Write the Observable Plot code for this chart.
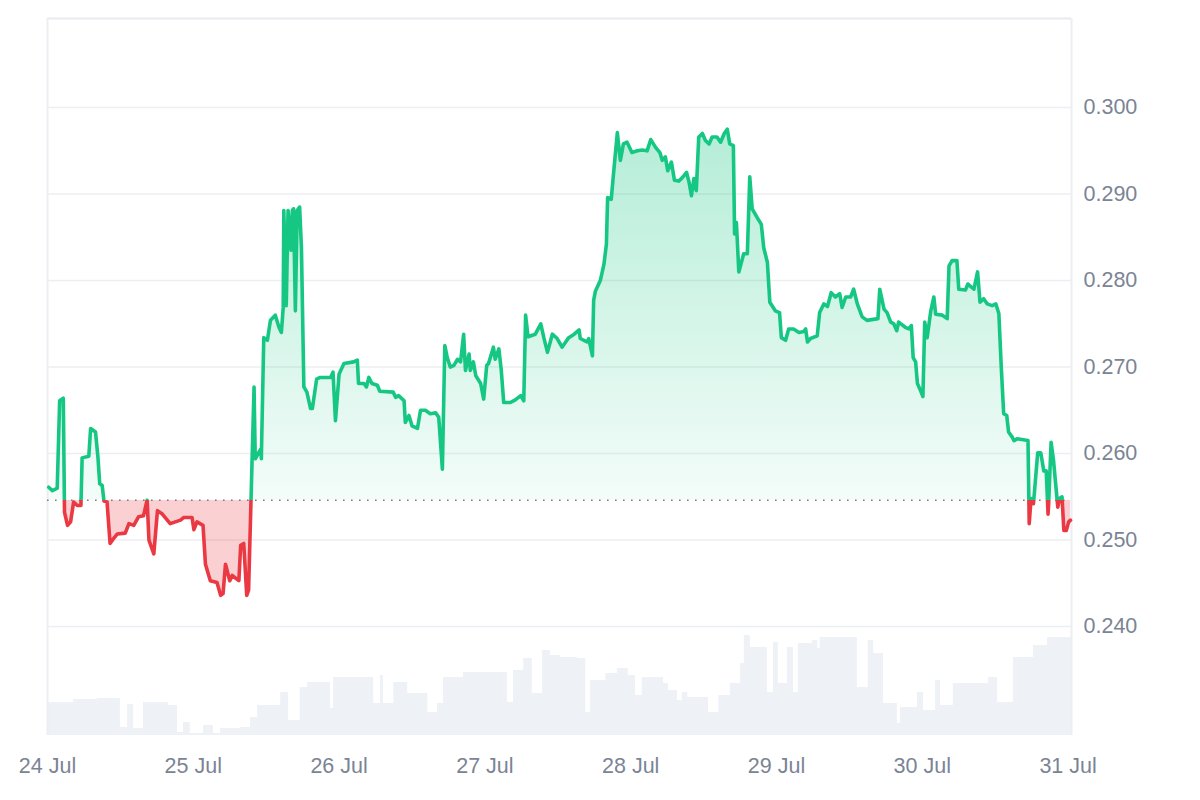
<!DOCTYPE html>
<html>
<head>
<meta charset="utf-8">
<script src="https://cdn.jsdelivr.net/npm/d3@7"></script>
<script src="https://cdn.jsdelivr.net/npm/@observablehq/plot@0.6"></script>
<style>
  html, body { margin: 0; padding: 0; background: #fff; }
  #wrap { position: relative; width: 1200px; height: 800px; }
  #wrap svg { position: absolute; left: 0; top: 0; }
</style>
</head>
<body>
<div id="wrap"></div>
<script>
// ---- data (hours since 24 Jul 00:00 UTC) ----
const hours = [0.2,0.8,1.6,2.0,2.6,2.8,3.3,3.8,4.3,4.9,5.5,5.7,6.8,7.1,7.9,8.3,8.6,9.0,9.3,9.8,
10.3,10.8,11.5,12.8,13.4,14.2,15.0,15.8,16.4,16.7,17.5,18.1,18.9,20.2,21.9,22.4,23.8,24.1,24.6,25.6,
26.0,26.8,27.9,28.5,28.9,29.3,30.0,30.4,31.5,31.8,32.3,32.8,33.1,34.0,34.2,35.1,35.2,35.6,36.2,36.7,
37.5,38.1,38.5,38.8,38.9,39.3,39.6,40.1,40.3,40.5,40.8,41.1,41.5,41.8,42.2,42.7,43.3,43.6,44.3,44.9,
46.6,47.0,47.4,48.0,48.8,50.4,51.0,51.2,52.1,52.5,52.9,53.4,54.3,54.7,56.9,57.3,57.8,58.7,58.9,59.5,
60.0,60.9,61.4,62.2,63.0,63.9,64.4,65.0,65.4,65.8,66.3,66.9,67.5,68.0,68.5,68.8,69.4,69.6,70.1,70.5,
71.3,71.8,72.3,72.6,73.4,73.7,74.3,74.7,75.1,76.2,77.0,77.9,78.4,78.7,79.1,80.3,81.2,81.7,82.3,83.1,
83.9,84.7,85.3,85.8,86.7,87.5,87.7,88.8,89.1,89.7,89.9,90.2,91.0,91.6,92.0,92.2,92.8,93.1,93.8,94.3,
94.8,95.4,96.2,97.1,97.9,98.7,99.3,100.1,100.8,101.2,101.7,102.1,102.7,103.2,103.9,104.5,105.2,105.6,106.0,106.4,
106.8,107.2,107.8,108.3,108.9,109.4,110.2,110.8,111.4,111.9,112.3,112.9,113.1,113.4,113.8,114.6,115.2,115.6,116.0,116.8,
117.5,117.9,118.5,118.9,119.8,120.5,120.8,121.5,122.0,122.8,123.7,124.5,124.8,125.1,125.6,126.7,127.1,127.8,128.4,129.0,
129.7,130.4,130.8,131.4,132.2,132.7,133.3,134.1,134.9,136.7,137.0,137.7,138.2,138.8,139.3,139.8,140.1,141.2,141.8,142.2,
142.5,142.9,143.2,143.7,144.1,144.4,144.8,145.4,145.9,146.2,147.3,148.1,148.4,148.9,149.7,150.0,151.1,151.5,152.5,153.1,
153.5,154.1,154.7,155.5,156.1,156.6,157.0,157.4,157.9,158.2,158.8,159.1,159.6,161.4,161.6,161.9,162.3,163.0,163.5,164.0,
164.4,164.7,164.8,165.2,165.6,166.2,166.3,166.6,167.0,167.3,167.7,168.1,168.4];
const prices = [0.2561,0.2557,0.2560,0.2661,0.2664,0.2532,0.2517,0.2521,0.2544,0.2540,0.2540,0.2595,0.2597,0.2629,0.2625,0.2596,0.2565,0.2563,0.2545,0.2544,
0.2496,0.2501,0.2507,0.2508,0.2519,0.2517,0.2527,0.2528,0.2546,0.2500,0.2484,0.2534,0.2530,0.2519,0.2523,0.2526,0.2526,0.2512,0.2521,0.2517,
0.2472,0.2453,0.2451,0.2436,0.2438,0.2472,0.2453,0.2459,0.2453,0.2494,0.2496,0.2436,0.2442,0.2677,0.2594,0.2605,0.2594,0.2734,0.2731,0.2754,
0.2760,0.2746,0.2740,0.2769,0.2881,0.2771,0.2881,0.2835,0.2881,0.2883,0.2765,0.2881,0.2885,0.2838,0.2677,0.2671,0.2652,0.2652,0.2686,0.2688,
0.2688,0.2694,0.2638,0.2692,0.2704,0.2706,0.2708,0.2681,0.2681,0.2677,0.2688,0.2681,0.2679,0.2672,0.2671,0.2665,0.2667,0.2661,0.2636,0.2644,
0.2632,0.2629,0.2650,0.2650,0.2646,0.2647,0.2642,0.2582,0.2725,0.2711,0.2700,0.2702,0.2709,0.2706,0.2738,0.2696,0.2715,0.2696,0.2706,0.2690,
0.2681,0.2663,0.2702,0.2704,0.2723,0.2709,0.2721,0.2696,0.2659,0.2659,0.2662,0.2667,0.2661,0.2760,0.2735,0.2738,0.2750,0.2734,0.2717,0.2738,
0.2733,0.2723,0.2729,0.2734,0.2738,0.2743,0.2733,0.2729,0.2733,0.2713,0.2777,0.2788,0.2800,0.2819,0.2842,0.2896,0.2894,0.2918,0.2971,0.2939,
0.2958,0.2960,0.2948,0.2950,0.2951,0.2950,0.2963,0.2954,0.2948,0.2939,0.2943,0.2927,0.2937,0.2916,0.2915,0.2919,0.2925,0.2914,0.2898,0.2918,
0.2904,0.2966,0.2970,0.2962,0.2958,0.2966,0.2966,0.2960,0.2970,0.2975,0.2958,0.2956,0.2854,0.2867,0.2810,0.2831,0.2831,0.2920,0.2883,0.2873,
0.2865,0.2838,0.2821,0.2775,0.2765,0.2763,0.2734,0.2731,0.2744,0.2744,0.2740,0.2741,0.2744,0.2729,0.2733,0.2736,0.2763,0.2773,0.2770,0.2786,
0.2781,0.2785,0.2769,0.2781,0.2781,0.2790,0.2773,0.2758,0.2754,0.2756,0.2790,0.2767,0.2763,0.2752,0.2750,0.2742,0.2752,0.2746,0.2744,0.2748,
0.2711,0.2706,0.2681,0.2673,0.2666,0.2752,0.2734,0.2765,0.2781,0.2761,0.2760,0.2756,0.2817,0.2823,0.2823,0.2790,0.2789,0.2796,0.2790,0.2810,
0.2775,0.2779,0.2773,0.2771,0.2773,0.2762,0.2700,0.2646,0.2644,0.2625,0.2619,0.2615,0.2617,0.2615,0.2519,0.2548,0.2542,0.2601,0.2601,0.2580,
0.2580,0.2530,0.2542,0.2613,0.2592,0.2546,0.2538,0.2548,0.2550,0.2511,0.2511,0.2521,0.2523];

// volume (millions, step values starting at given hour)
const volHours = [0,4.3,8.2,12.0,13.2,14.2,15.8,19.9,21.4,22.4,23.5,25.7,27.3,28.5,31.8,33.4,34.6,38.4,39.7,41.6,
42.8,46.6,47.1,53.7,54.8,55.3,57.0,59.3,62.6,64.2,65.2,68.5,75.7,76.7,78.4,79.8,81.5,82.8,84.4,87.2,
88.6,89.4,91.9,93.8,95.6,96.8,97.9,101.4,102.2,103.7,104.5,105.4,108.8,110.5,112.4,114.1,114.7,115.7,118.5,119.5,
120.3,121.8,122.8,123.6,125.9,126.8,127.2,133.3,135.1,136.0,137.6,139.9,140.4,143.2,144.2,146.2,147.0,149.1,154.9,156.4,
159.0,162.3,164.6,168.6];
const volumes = [3.3,3.6,3.7,0.8,3.1,0.7,3.3,3.0,0.3,1.3,0.2,1.0,0.2,0.7,0.8,1.8,3.0,4.3,1.5,4.8,
5.3,2.7,5.8,3.2,6.0,3.2,5.3,4.2,2.3,3.2,5.8,6.3,3.3,6.5,7.7,4.2,8.5,8.0,7.8,7.7,
2.3,5.5,6.2,6.7,6.0,4.0,5.8,5.2,4.5,3.5,4.3,3.8,2.3,4.0,5.2,7.2,10.0,8.8,4.3,9.3,
5.2,8.8,4.3,9.2,9.5,8.7,9.8,4.8,9.5,8.2,3.2,1.2,2.8,4.3,2.5,5.5,3.0,5.2,5.8,3.3,
7.8,9.0,9.8,9.8];

const openPrice = 0.2546;
const yTicks = [0.24, 0.25, 0.26, 0.27, 0.28, 0.29, 0.30];
const dayTicks = ["2024-07-24","2024-07-25","2024-07-26","2024-07-27","2024-07-28","2024-07-29","2024-07-30","2024-07-31"];
const yDomain = [0.2274, 0.3103];
const volDomain = [0, 71.7];

// ---- build ----
const t0 = Date.UTC(2024, 6, 24);
const toDate = h => new Date(t0 + h * 3600e3);
const series = hours.map((h, i) => ({t: toDate(h), p: prices[i]}));
const vol = volHours.map((h, i) => ({t: toDate(h), v: volumes[i]}));
const xDomain = [toDate(0), toDate(168.56)];
const ticks = dayTicks.map(s => new Date(s + "T00:00:00Z"));

const W = 1200, H = 800;
const margins = {marginLeft: 47, marginRight: 129, marginTop: 18, marginBottom: 65};
const font = {fontFamily: "'Liberation Sans', Arial, Helvetica, sans-serif", fontSize: "21.5px", background: "transparent", overflow: "visible"};

const green = "#16c784", red = "#ea3943";

const volPlot = Plot.plot({
  width: W, height: H, ...margins, style: font,
  x: {type: "utc", domain: xDomain, axis: null},
  y: {domain: volDomain, axis: null},
  marks: [
    Plot.areaY(vol, {x: "t", y: "v", curve: "step-after", fill: "#eef1f5"})
  ]
});

const pricePlot = Plot.plot({
  width: W, height: H, ...margins, style: font,
  x: {type: "utc", domain: xDomain},
  y: {domain: yDomain},
  marks: [
    Plot.ruleY(yTicks, {stroke: "#eceef1", strokeWidth: 1.5}),
    Plot.ruleY([yDomain[1]], {stroke: "#e8eaed", strokeWidth: 2}),
    Plot.ruleX(xDomain, {stroke: "#eceef1", strokeWidth: 2}),
    Plot.areaY(series, {x: "t", y1: openPrice, y2: "p", fill: "url(#fillGrad)"}),
    Plot.ruleY([openPrice], {stroke: "#7d7d7d", strokeWidth: 1.6, strokeDasharray: "1.6 6.4"}),
    Plot.lineY(series, {x: "t", y: "p", stroke: "url(#lineGrad)", strokeWidth: 3.6, strokeLinejoin: "round", strokeLinecap: "round"}),
    Plot.axisY(yTicks, {anchor: "right", tickSize: 0, tickPadding: 12, tickFormat: d3.format(".3f"), color: "#7b8494", label: null}),
    Plot.axisX(ticks, {anchor: "bottom", tickSize: 0, tickPadding: 22, tickFormat: d3.utcFormat("%-d %b"), color: "#7b8494", label: null})
  ]
});

// gradients split at the opening price, positioned through the y scale
const ys = pricePlot.scale("y");
const yTop = ys.apply(yDomain[1]), yBot = ys.apply(yDomain[0]), yB = ys.apply(openPrice);
const b = (yB - yTop) / (yBot - yTop);
const svg = d3.select(pricePlot);
const defs = svg.insert("defs", ":first-child");
const lg = defs.append("linearGradient").attr("id", "lineGrad").attr("gradientUnits", "userSpaceOnUse")
  .attr("x1", 0).attr("x2", 0).attr("y1", yTop).attr("y2", yBot);
lg.append("stop").attr("offset", 0).attr("stop-color", green);
lg.append("stop").attr("offset", b).attr("stop-color", green);
lg.append("stop").attr("offset", b).attr("stop-color", red);
lg.append("stop").attr("offset", 1).attr("stop-color", red);
const fg = defs.append("linearGradient").attr("id", "fillGrad").attr("gradientUnits", "userSpaceOnUse")
  .attr("x1", 0).attr("x2", 0).attr("y1", yTop).attr("y2", yBot);
fg.append("stop").attr("offset", 0).attr("stop-color", green).attr("stop-opacity", 0.4);
fg.append("stop").attr("offset", b).attr("stop-color", green).attr("stop-opacity", 0.05);
fg.append("stop").attr("offset", b).attr("stop-color", red).attr("stop-opacity", 0.24);
fg.append("stop").attr("offset", 1).attr("stop-color", red).attr("stop-opacity", 0.24);

const wrap = document.getElementById("wrap");
wrap.appendChild(volPlot);
wrap.appendChild(pricePlot);
</script>
</body>
</html>
